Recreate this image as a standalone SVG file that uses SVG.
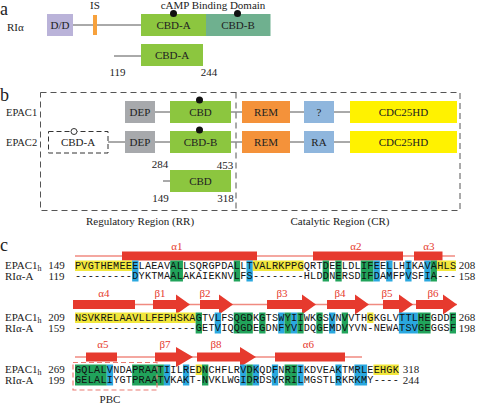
<svg xmlns="http://www.w3.org/2000/svg" width="477" height="405" viewBox="0 0 477 405">
<style>
.t{font-family:"Liberation Serif","Times New Roman",serif;fill:#222}
.pl{font-size:18px}
.lb{font-size:11px}
.rl{font-size:10.5px}
.dm{font-size:11px;text-anchor:middle}
.num{font-size:11px;text-anchor:middle}
.ss{font-family:"Liberation Serif",serif;font-size:11px;fill:#e63a2e;text-anchor:middle}
.seq{font-family:"Liberation Mono","Courier New",monospace;font-size:10.2px;fill:#111}
.ln{stroke:#555;stroke-width:1;fill:none}
.dash{stroke:#555;stroke-width:1;fill:none;stroke-dasharray:6,4}
.bar{fill:#e63a2e}
.thin{stroke:#f08a80;stroke-width:1.3;fill:none}
.Y{fill:#f2e73c}.G{fill:#21a35b}.B{fill:#2aa8df}
.cbd{fill:#8cc63f}.cbdb{fill:#6fb08f}.dep{fill:#a7a9ac}.rem{fill:#f4923a}.ra{fill:#8fb6dd}.cdc{fill:#fff200}.dd{fill:#bab3d9}
</style>

<!-- Panel labels -->
<text class="t pl" x="0" y="15">a</text>
<text class="t pl" x="0" y="101">b</text>
<text class="t pl" x="0" y="251">c</text>

<!-- Panel a -->
<g id="connectors-a">
<line class="ln" x1="73" y1="25" x2="141" y2="25"/>
<line class="ln" x1="114" y1="56" x2="141" y2="56"/>
</g>
<text class="t lb" x="7" y="31">RIα</text>
<text class="t lb" x="95" y="9" text-anchor="middle">IS</text>
<text class="t lb" x="213" y="8.5" text-anchor="middle">cAMP Binding Domain</text>
<g id="a-dd"><rect class="dd" x="47" y="14" width="26" height="22"/><text class="t dm" x="60" y="29">D/D</text></g>
<g id="a-is"><rect x="93" y="15" width="4" height="20" fill="#f7a13c"/></g>
<g id="a-cbda"><rect class="cbd" x="141" y="14" width="65" height="22"/><text class="t dm" x="173.5" y="29">CBD-A</text><circle cx="173.5" cy="13.5" r="3.5" fill="#111"/></g>
<g id="a-cbdb"><rect class="cbdb" x="206" y="14" width="64.5" height="22"/><text class="t dm" x="238" y="29">CBD-B</text><circle cx="237.5" cy="13.5" r="3.5" fill="#111"/></g>
<g id="a-cbda2"><rect class="cbd" x="141" y="44" width="62" height="22"/><text class="t dm" x="172" y="59">CBD-A</text></g>
<text class="t num" x="117.5" y="76">119</text>
<text class="t num" x="209" y="76">244</text>

<!-- Panel b -->
<rect class="dash" x="40.5" y="92.5" width="419.5" height="118"/>
<line class="dash" x1="236" y1="92.5" x2="236" y2="210.5"/>
<g id="connectors-b">
<line class="ln" x1="155" y1="112" x2="170" y2="112"/>
<line class="ln" x1="231" y1="112" x2="242" y2="112"/>
<line class="ln" x1="290" y1="112" x2="304" y2="112"/>
<line class="ln" x1="334" y1="112" x2="350" y2="112"/>
<line class="ln" x1="108" y1="142" x2="125" y2="142"/>
<line class="ln" x1="155" y1="142" x2="170" y2="142"/>
<line class="ln" x1="231" y1="142" x2="242" y2="142"/>
<line class="ln" x1="290" y1="142" x2="304" y2="142"/>
<line class="ln" x1="334" y1="142" x2="350" y2="142"/>
<line class="ln" x1="163" y1="181" x2="170" y2="181"/>
</g>
<text class="t rl" x="6" y="115.5">EPAC1</text>
<text class="t rl" x="6" y="146">EPAC2</text>
<g id="e1-dep"><rect class="dep" x="125" y="101" width="30" height="22"/><text class="t dm" x="140" y="116">DEP</text></g>
<g id="e1-cbd"><rect class="cbd" x="170" y="101" width="61" height="22"/><text class="t dm" x="200.5" y="116">CBD</text><circle cx="199.5" cy="100" r="3.5" fill="#111"/></g>
<g id="e1-rem"><rect class="rem" x="242" y="101" width="48" height="22"/><text class="t dm" x="266" y="116">REM</text></g>
<g id="e1-q"><rect class="ra" x="304" y="101" width="30" height="22"/><text class="t dm" x="319" y="116">?</text></g>
<g id="e1-cdc"><rect class="cdc" x="350" y="101" width="107" height="22"/><text class="t dm" x="403.5" y="116">CDC25HD</text></g>
<g id="e2-cbda"><rect x="48.5" y="131.5" width="59.5" height="21.5" fill="#fff" stroke="#333" stroke-width="1" stroke-dasharray="5,3"/><text class="t dm" x="78" y="146">CBD-A</text><circle cx="74" cy="131.5" r="3" fill="#fff" stroke="#333" stroke-width="1"/></g>
<g id="e2-dep"><rect class="dep" x="125" y="131" width="30" height="22"/><text class="t dm" x="140" y="146">DEP</text></g>
<g id="e2-cbdb"><rect class="cbd" x="170" y="131" width="61" height="22"/><text class="t dm" x="200.5" y="146">CBD-B</text><circle cx="199.5" cy="130" r="3.5" fill="#111"/></g>
<g id="e2-rem"><rect class="rem" x="242" y="131" width="48" height="22"/><text class="t dm" x="266" y="146">REM</text></g>
<g id="e2-ra"><rect class="ra" x="304" y="131" width="30" height="22"/><text class="t dm" x="319" y="146">RA</text></g>
<g id="e2-cdc"><rect class="cdc" x="350" y="131" width="107" height="22"/><text class="t dm" x="403.5" y="146">CDC25HD</text></g>
<text class="t num" x="160" y="168">284</text>
<text class="t num" x="225" y="169">453</text>
<g id="b-cbd3"><rect class="cbd" x="170" y="170" width="61" height="22"/><text class="t dm" x="200.5" y="185">CBD</text></g>
<text class="t num" x="160.5" y="202">149</text>
<text class="t num" x="225.5" y="202">318</text>
<text class="t lb" x="140" y="225" text-anchor="middle">Regulatory Region (RR)</text>
<text class="t lb" x="340" y="225" text-anchor="middle">Catalytic Region (CR)</text>

<!-- Panel c: secondary structure -->
<g id="ss">
<line class="thin" x1="75" y1="256" x2="455" y2="256"/>
<rect class="bar" x="122" y="251.5" width="135" height="9"/>
<rect class="bar" x="313" y="251.5" width="90" height="9"/>
<rect class="bar" x="414" y="251.5" width="28.5" height="9"/>
<text class="ss" x="177" y="249.5">α1</text>
<text class="ss" x="356" y="249.5">α2</text>
<text class="ss" x="429" y="249.5">α3</text>

<line class="thin" x1="135" y1="304.5" x2="457" y2="304.5"/>
<rect class="bar" x="73" y="300" width="62" height="9"/>
<polygon class="bar" points="153,300 176,300 176,294.5 190,304.5 176,314.5 176,309 153,309"/>
<polygon class="bar" points="200,300 219,300 219,294.5 233,304.5 219,314.5 219,309 200,309"/>
<polygon class="bar" points="267,300 302,300 302,294.5 316,304.5 302,314.5 302,309 267,309"/>
<polygon class="bar" points="327,300 355,300 355,294.5 369,304.5 355,314.5 355,309 327,309"/>
<polygon class="bar" points="383,300 399,300 399,294.5 413,304.5 399,314.5 399,309 383,309"/>
<polygon class="bar" points="416,300 443,300 443,294.5 457,304.5 443,314.5 443,309 416,309"/>
<text class="ss" x="104" y="297">α4</text>
<text class="ss" x="160" y="297">β1</text>
<text class="ss" x="205" y="297">β2</text>
<text class="ss" x="282" y="297">β3</text>
<text class="ss" x="340" y="297">β4</text>
<text class="ss" x="387" y="297">β5</text>
<text class="ss" x="433" y="297">β6</text>

<line class="thin" x1="75" y1="357" x2="362" y2="357"/>
<rect class="bar" x="86" y="352.5" width="31" height="9"/>
<polygon class="bar" points="155,352.5 176,352.5 176,347 193,357 176,367 176,361.5 155,361.5"/>
<polygon class="bar" points="197,352.5 240,352.5 240,347 256,357 240,367 240,361.5 197,361.5"/>
<rect class="bar" x="275" y="352.5" width="70" height="9"/>
<text class="ss" x="103" y="348">α5</text>
<text class="ss" x="165" y="348">β7</text>
<text class="ss" x="216" y="348">β8</text>
<text class="ss" x="308.5" y="348">α6</text>
</g>

<!-- highlights row 1 -->
<g id="hl1">
<rect class="Y" x="75" y="260.5" width="57.15" height="10.5"/>
<rect class="B" x="132.15" y="260.5" width="6.35" height="21"/>
<rect class="G" x="170.25" y="260.5" width="12.7" height="21"/>
<rect class="G" x="233.75" y="260.5" width="6.35" height="21"/>
<rect class="B" x="246.45" y="260.5" width="6.35" height="21"/>
<rect class="Y" x="252.8" y="260.5" width="50.8" height="10.5"/>
<rect class="G" x="322.65" y="260.5" width="6.35" height="21"/>
<rect class="G" x="335.35" y="260.5" width="6.35" height="21"/>
<rect class="G" x="360.75" y="260.5" width="12.7" height="21"/>
<rect class="B" x="373.45" y="260.5" width="6.35" height="21"/>
<rect class="B" x="386.15" y="260.5" width="6.35" height="21"/>
<rect class="B" x="405.2" y="260.5" width="6.35" height="21"/>
<rect class="B" x="424.25" y="260.5" width="6.35" height="21"/>
<rect class="G" x="430.6" y="260.5" width="6.35" height="21"/>
<rect class="Y" x="436.95" y="260.5" width="19.05" height="10.5"/>
</g>
<!-- highlights row 2 -->
<g id="hl2">
<rect class="Y" x="75" y="312.5" width="120.65" height="10.5"/>
<rect class="G" x="195.65" y="312.5" width="6.35" height="21"/>
<rect class="B" x="214.7" y="312.5" width="6.35" height="21"/>
<rect class="G" x="233.75" y="312.5" width="19.05" height="21"/>
<rect class="G" x="259.15" y="312.5" width="6.35" height="21"/>
<rect class="B" x="278.2" y="312.5" width="6.35" height="21"/>
<rect class="G" x="284.55" y="312.5" width="6.35" height="21"/>
<rect class="B" x="290.9" y="312.5" width="6.35" height="21"/>
<rect class="G" x="297.25" y="312.5" width="6.35" height="21"/>
<rect class="G" x="316.3" y="312.5" width="6.35" height="21"/>
<rect class="B" x="329" y="312.5" width="6.35" height="21"/>
<rect class="G" x="341.7" y="312.5" width="6.35" height="21"/>
<rect class="Y" x="367.1" y="312.5" width="6.35" height="10.5"/>
<rect class="B" x="398.85" y="312.5" width="19.05" height="21"/>
<rect class="G" x="417.9" y="312.5" width="12.7" height="21"/>
<rect class="G" x="449.65" y="312.5" width="6.35" height="21"/>
</g>
<!-- highlights row 3 -->
<g id="hl3">
<rect class="G" x="75" y="364.5" width="31.75" height="21"/>
<rect class="B" x="106.75" y="364.5" width="6.35" height="21"/>
<rect class="G" x="132.15" y="364.5" width="31.75" height="21"/>
<rect class="B" x="163.9" y="364.5" width="6.35" height="21"/>
<rect class="B" x="182.95" y="364.5" width="6.35" height="21"/>
<rect class="Y" x="195.65" y="364.5" width="6.35" height="10.5"/>
<rect class="G" x="202" y="364.5" width="6.35" height="21"/>
<rect class="B" x="240.1" y="364.5" width="6.35" height="21"/>
<rect class="G" x="246.45" y="364.5" width="6.35" height="21"/>
<rect class="B" x="252.8" y="364.5" width="6.35" height="21"/>
<rect class="B" x="271.85" y="364.5" width="6.35" height="21"/>
<rect class="G" x="284.55" y="364.5" width="12.7" height="21"/>
<rect class="B" x="297.25" y="364.5" width="6.35" height="21"/>
<rect class="B" x="335.35" y="364.5" width="6.35" height="21"/>
<rect class="B" x="354.4" y="364.5" width="12.7" height="21"/>
<rect class="Y" x="373.45" y="364.5" width="25.4" height="10.5"/>
</g>
<rect x="73" y="362.5" width="84" height="27.5" fill="none" stroke="#ea7b72" stroke-width="1.2" stroke-dasharray="5,3"/>
<text class="t lb" x="110" y="403" text-anchor="middle">PBC</text>

<!-- row labels -->
<g class="t lb">
<text x="5" y="269">EPAC1<tspan font-size="8" dy="2">h</tspan></text>
<text x="5" y="279.5">RIα-A</text>
<text x="5" y="321">EPAC1<tspan font-size="8" dy="2">h</tspan></text>
<text x="5" y="331.5">RIα-A</text>
<text x="5" y="373">EPAC1<tspan font-size="8" dy="2">h</tspan></text>
<text x="5" y="383.5">RIα-A</text>
</g>
<g class="t num">
<text x="56.5" y="269">149</text><text x="56.5" y="279.5">119</text>
<text x="56.5" y="321">209</text><text x="56.5" y="331.5">159</text>
<text x="56.5" y="373">269</text><text x="56.5" y="383.5">199</text>
<text x="467" y="269">208</text><text x="467" y="279.5">158</text>
<text x="467" y="321">268</text><text x="467" y="331.5">198</text>
<text x="411" y="373">318</text><text x="411" y="383.5">244</text>
</g>

<!-- sequences -->
<g class="seq">
<text x="75" y="268.8" textLength="381" lengthAdjust="spacing">PVGTHEMEEELAEAVALLSQRGPDALLTVALRKPPGQRTDEELDLIFEELLHIKAVAHLS</text>
<text x="75" y="279.3" textLength="381" lengthAdjust="spacing">---------DYKTMAALAKAIEKNVLFS--------HLDDNERSDIFDAMFPVSFIA---</text>
<text x="75" y="320.8" textLength="381" lengthAdjust="spacing">NSVKRELAAVLLFEPHSKAGTVLFSQGDKGTSWYIIWKGSVNVVTHGKGLVTTLHEGDDF</text>
<text x="75" y="331.3" textLength="381" lengthAdjust="spacing">-------------------GETVIQQGDEGDNFYVIDQGEMDVYVN-NEWATSVGEGGSF</text>
<text x="75" y="372.8" textLength="323.85" lengthAdjust="spacing">GQLALVNDAPRAATIILREDNCHFLRVDKQDFNRIIKDVEAKTMRLEEHGK</text>
<text x="75" y="383.3" textLength="323.85" lengthAdjust="spacing">GELALIYGTPRAATVKAKT-NVKLWGIDRDSYRRILMGSTLRKRKMY----</text>
</g>
</svg>
